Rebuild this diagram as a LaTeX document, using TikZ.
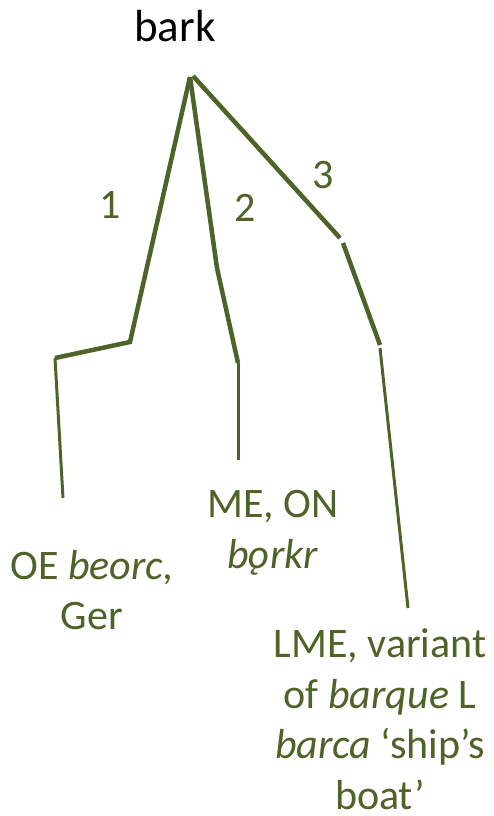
\documentclass[tikz,border=0pt]{standalone}
\usepackage{fontspec}
\setmainfont{Carlito}
\definecolor{olive}{HTML}{4F6228}
\begin{document}
\begin{tikzpicture}[x=1pt,y=-1pt,
  thick line/.style={draw=olive,line width=4.5pt},
  thin line/.style={draw=olive,line width=3pt},
  lbl/.style={text=olive,inner sep=0pt,align=center,font=\fontsize{42}{50.5}\selectfont},
  num/.style={text=olive,inner sep=0pt,font=\fontsize{42}{51}\selectfont}]
\useasboundingbox (0,0) rectangle (493,816);
\node[inner sep=0pt,font=\fontsize{45}{54}\selectfont] (bark) at (175,26) {bark};
\coordinate (apex) at (190,77);
\coordinate (apexr) at (193,76);
% branch 1
\coordinate (b1a) at (130,342);
\coordinate (b1b) at (55,358);
\coordinate (b1c) at (63,498);
% branch 2
\coordinate (b2a) at (217,268);
\coordinate (b2b) at (238,363);
\coordinate (b2c) at (238,460);
% branch 3
\coordinate (b3a) at (340,238);
\coordinate (b3b) at (343,243);
\coordinate (b3c) at (380,345);
\coordinate (b3d) at (380,348);
\coordinate (b3e) at (408,608);
\draw[thick line,line join=miter] (apex) -- (b1a) -- (b1b);
\draw[thin line] (b1b) -- (b1c);
\draw[thick line] (apex) -- (b2a);
\draw[thick line] (b2a) -- (b2b);
\draw[thin line] (b2b) -- (b2c);
\draw[thick line] (apexr) -- (b3a);
\draw[thick line] (b3b) -- (b3c);
\draw[thin line] (b3d) -- (b3e);
\node[num] (n1) at (110,205) {1};
\node[num] (n2) at (245,208) {2};
\node[num] (n3) at (323,175) {3};
\node[lbl] (oe) at (92,590) {OE \textit{beorc,}\\Ger};
\node[lbl] (me) at (273,533) {ME, ON\\\textit{bǫrkr}};
\node[lbl] (lme) at (380,719) {LME, variant\\of \textit{barque} L\\\textit{barca} ‘ship’s\\boat’};
\end{tikzpicture}
\end{document}
